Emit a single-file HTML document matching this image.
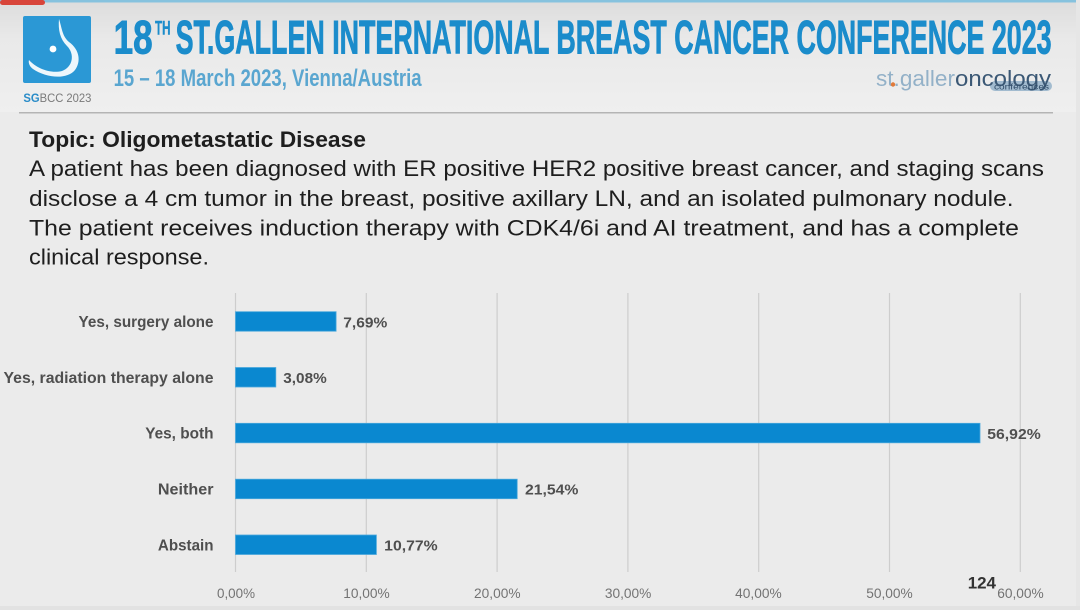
<!DOCTYPE html>
<html><head><meta charset="utf-8"><style>
html,body{margin:0;padding:0;background:#ebebeb;}
svg{display:block;}
</style></head><body>
<svg width="1080" height="610" viewBox="0 0 1080 610" xmlns="http://www.w3.org/2000/svg" font-family="Liberation Sans, Arial, sans-serif">
<defs>
<linearGradient id="hdr" x1="0" y1="0" x2="0" y2="1">
<stop offset="0" stop-color="#dcdcdc"/>
<stop offset="0.35" stop-color="#e9e9e9"/>
<stop offset="1" stop-color="#efefef"/>
</linearGradient>
</defs>
<rect x="0" y="0" width="1080" height="610" fill="#ebebeb"/>
<rect x="0" y="0" width="1080" height="112" fill="url(#hdr)"/>
<rect x="0" y="0" width="1080" height="2.5" fill="#86c2de"/>
<rect x="0" y="0" width="45" height="5" rx="2.5" fill="#d8453a"/>
<rect x="1076" y="0" width="4" height="610" fill="#e6e6e6"/>
<rect x="0" y="606" width="1080" height="4" fill="#e2e2e2"/>

<!-- logo -->
<rect x="23" y="16" width="68" height="67" rx="2" fill="#2b98d5"/>
<path d="M59 19 C 62 28, 62 36, 69 42 C 80 50, 81 62, 75 70 C 67 80, 46 78, 33 69 C 30 67, 28 63, 29 60 C 36 68, 50 74, 62 71 C 73 67, 75 54, 67 46 C 60 39, 58 30, 59 19 Z" fill="#ffffff" opacity="0.92"/>
<circle cx="53" cy="49" r="3.4" fill="#ffffff"/>
<text x="23.4" y="102" font-size="12" textLength="68" lengthAdjust="spacingAndGlyphs"><tspan font-weight="bold" fill="#2a8cc8">SG</tspan><tspan fill="#7a7a7a">BCC 2023</tspan></text>

<!-- title -->
<g fill="#1b8ccb" stroke="#1b8ccb" stroke-width="0.9">
<text x="113.6" y="53.4" font-size="47" font-weight="bold" textLength="39" lengthAdjust="spacingAndGlyphs">18</text>
<text x="155" y="34.4" font-size="19" font-weight="bold" stroke-width="0.4" textLength="15.5" lengthAdjust="spacingAndGlyphs">TH</text>
<text x="175.6" y="53.4" font-size="47" font-weight="bold" textLength="876" lengthAdjust="spacingAndGlyphs">ST.GALLEN INTERNATIONAL BREAST CANCER CONFERENCE 2023</text>
</g>
<text x="113.6" y="86" font-size="24" font-weight="bold" fill="#5aa6d0" textLength="308" lengthAdjust="spacingAndGlyphs">15 – 18 March 2023, Vienna/Austria</text>

<!-- st.gallen oncology -->
<text x="876" y="86" font-size="22" fill="#93b1c8" textLength="79" lengthAdjust="spacingAndGlyphs">st.galler</text>
<circle cx="893" cy="84.5" r="2.2" fill="#e07a3a"/>
<rect x="990" y="81" width="62" height="10" rx="5" fill="#a2bbcf"/>
<text x="955" y="86" font-size="22" fill="#3b5875" textLength="96" lengthAdjust="spacingAndGlyphs">oncology</text>
<text x="994" y="89.5" font-size="8" fill="#2f4b68" textLength="55" lengthAdjust="spacingAndGlyphs">conferences</text>

<rect x="19" y="112" width="1034" height="1.5" fill="#b4b4b4"/>

<!-- body text -->
<g fill="#1e1e1e" font-size="22">
<text x="29" y="147" font-weight="bold" textLength="337" lengthAdjust="spacingAndGlyphs">Topic: Oligometastatic Disease</text>
<text x="29" y="176" textLength="1015" lengthAdjust="spacingAndGlyphs">A patient has been diagnosed with ER positive HER2 positive breast cancer, and staging scans</text>
<text x="29" y="206" textLength="984.5" lengthAdjust="spacingAndGlyphs">disclose a 4 cm tumor in the breast, positive axillary LN, and an isolated pulmonary nodule.</text>
<text x="29" y="235.5" textLength="990" lengthAdjust="spacingAndGlyphs">The patient receives induction therapy with CDK4/6i and AI treatment, and has a complete</text>
<text x="29" y="264.5" textLength="180" lengthAdjust="spacingAndGlyphs">clinical response.</text>
</g>

<!-- gridlines -->
<g stroke="#cdcdcd" stroke-width="1.2">
<line x1="235.5" y1="293" x2="235.5" y2="572"/>
<line x1="366.3" y1="293" x2="366.3" y2="572"/>
<line x1="497.1" y1="293" x2="497.1" y2="572"/>
<line x1="627.9" y1="293" x2="627.9" y2="572"/>
<line x1="758.7" y1="293" x2="758.7" y2="572"/>
<line x1="889.5" y1="293" x2="889.5" y2="572"/>
<line x1="1020.3" y1="293" x2="1020.3" y2="572"/>
</g>

<!-- bars -->
<g fill="#0a88d0" stroke="#4aa8dc" stroke-width="0.8">
<rect x="235.5" y="311.7" width="100.6" height="19.5"/>
<rect x="235.5" y="367.5" width="40.3" height="19.5"/>
<rect x="235.5" y="423.3" width="744.5" height="19.5"/>
<rect x="235.5" y="479.2" width="281.7" height="19.5"/>
<rect x="235.5" y="535" width="140.9" height="19.5"/>
</g>

<!-- category labels -->
<g font-size="16" font-weight="bold" fill="#4f4f4f" text-anchor="end">
<text x="213.5" y="327" textLength="135" lengthAdjust="spacingAndGlyphs">Yes, surgery alone</text>
<text x="213.5" y="382.8" textLength="210" lengthAdjust="spacingAndGlyphs">Yes, radiation therapy alone</text>
<text x="213.5" y="438.6" textLength="68.3" lengthAdjust="spacingAndGlyphs">Yes, both</text>
<text x="213.5" y="494.5" textLength="55.6" lengthAdjust="spacingAndGlyphs">Neither</text>
<text x="213.5" y="550.3" textLength="55.6" lengthAdjust="spacingAndGlyphs">Abstain</text>
</g>

<!-- value labels -->
<g font-size="15" font-weight="bold" fill="#4f4f4f">
<text x="343.3" y="327.3" textLength="44" lengthAdjust="spacingAndGlyphs">7,69%</text>
<text x="283.3" y="383" textLength="43.4" lengthAdjust="spacingAndGlyphs">3,08%</text>
<text x="987.3" y="438.8" textLength="53.4" lengthAdjust="spacingAndGlyphs">56,92%</text>
<text x="525" y="494.6" textLength="53.4" lengthAdjust="spacingAndGlyphs">21,54%</text>
<text x="384.2" y="550.4" textLength="53.4" lengthAdjust="spacingAndGlyphs">10,77%</text>
</g>

<!-- tick labels -->
<g font-size="14" fill="#737373" text-anchor="middle">
<text x="236" y="598" textLength="38" lengthAdjust="spacingAndGlyphs">0,00%</text>
<text x="366.5" y="598" textLength="46.5" lengthAdjust="spacingAndGlyphs">10,00%</text>
<text x="497.3" y="598" textLength="46.5" lengthAdjust="spacingAndGlyphs">20,00%</text>
<text x="628.1" y="598" textLength="46.5" lengthAdjust="spacingAndGlyphs">30,00%</text>
<text x="758.4" y="598" textLength="46.5" lengthAdjust="spacingAndGlyphs">40,00%</text>
<text x="889.5" y="598" textLength="46.5" lengthAdjust="spacingAndGlyphs">50,00%</text>
<text x="1020.5" y="598" textLength="46.5" lengthAdjust="spacingAndGlyphs">60,00%</text>
</g>
<text x="967.7" y="588.3" font-size="17" font-weight="bold" fill="#333333" textLength="28.3" lengthAdjust="spacingAndGlyphs">124</text>
</svg>
</body></html>
